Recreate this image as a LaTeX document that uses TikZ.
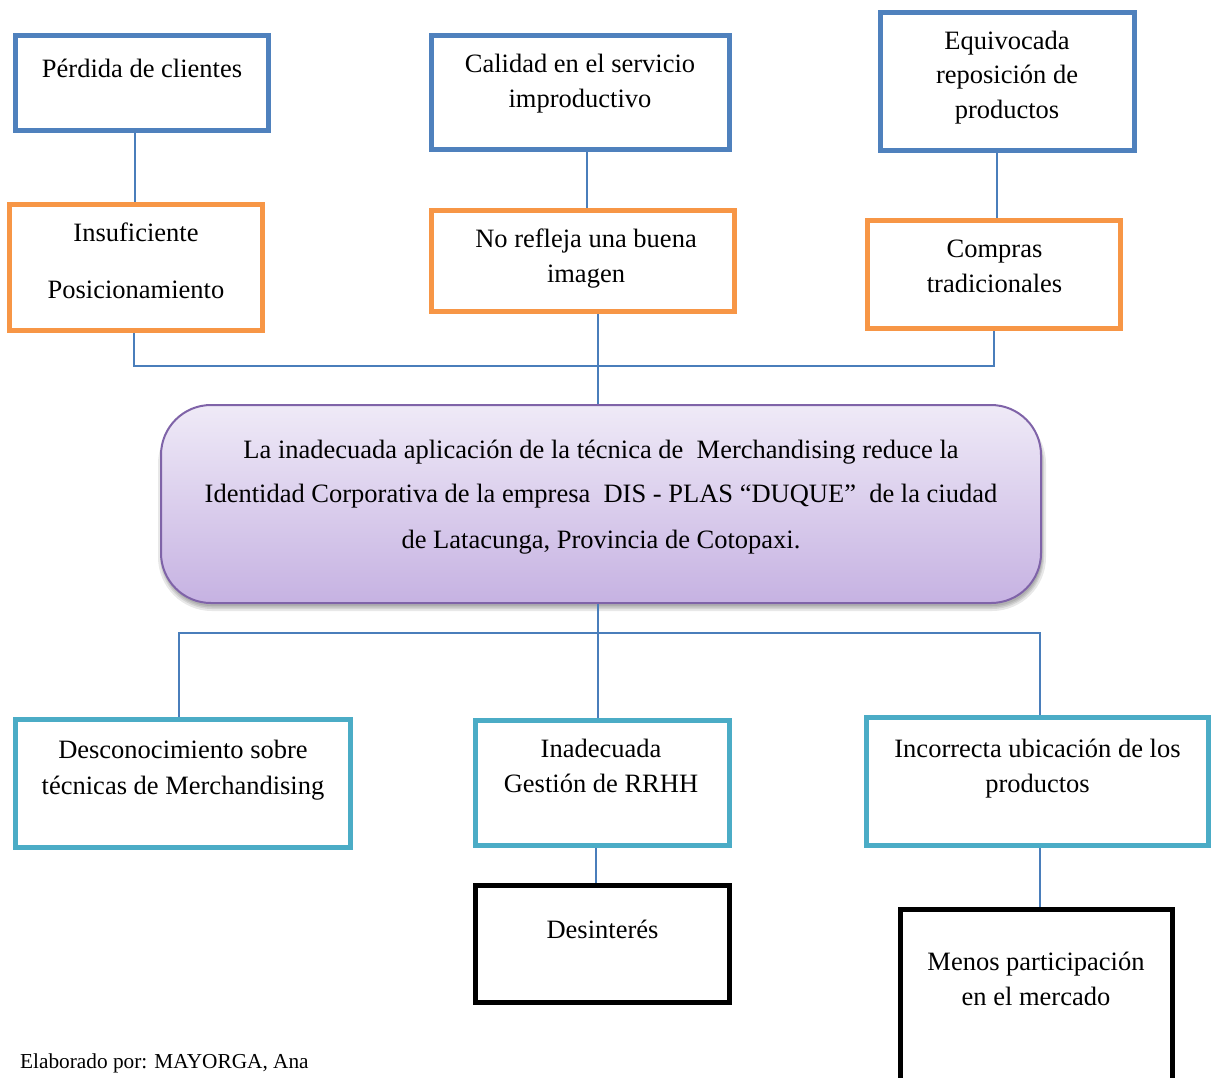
\documentclass[tikz,border=0pt]{standalone}
\usepackage{fontspec}
\setmainfont{Liberation Serif}
\definecolor{boxblue}{HTML}{4F81BD}
\definecolor{boxorange}{HTML}{F79646}
\definecolor{boxteal}{HTML}{4BACC6}
\definecolor{lineblue}{HTML}{4A7EBB}
\definecolor{purpleedge}{HTML}{7F63A8}
\definecolor{purpletop}{HTML}{EFEAF7}
\definecolor{purplebot}{HTML}{C6B2E2}
\newcommand{\mainsize}{\fontsize{26.5}{36}\selectfont}
\newcommand{\footsize}{\fontsize{21.3}{26}\selectfont}
\tikzset{
  box/.style={rectangle, draw, line width=5pt, inner sep=0pt, fill=white},
  bluebox/.style={box, draw=boxblue},
  orangebox/.style={box, draw=boxorange},
  tealbox/.style={box, draw=boxteal},
  blackbox/.style={box, draw=black},
  txt/.style={anchor=base, inner sep=0pt, font=\mainsize},
  conn/.style={draw=lineblue, line width=1.5pt},
  shadowlayer/.style={fill=black, opacity=0.09},
  central/.style={rectangle, rounded corners=50pt, draw=purpleedge, line width=2pt,
    top color=purpletop, bottom color=purplebot, inner sep=0pt}
}
\begin{document}
\begin{tikzpicture}[x=1pt, y=-1pt]
\useasboundingbox (0,0) rectangle (1214,1077);

% top row (effects)
\node[bluebox, minimum width=253pt, minimum height=95pt] (p1) at (142,83) {};
\node[bluebox, minimum width=298pt, minimum height=114pt] (p2) at (580.5,92.5) {};
\node[bluebox, minimum width=254pt, minimum height=138pt] (p3) at (1007.5,81.5) {};
% second row
\node[orangebox, minimum width=253pt, minimum height=126pt] (c1) at (136,267.5) {};
\node[orangebox, minimum width=303pt, minimum height=101pt] (c2) at (583,261) {};
\node[orangebox, minimum width=253pt, minimum height=108pt] (c3) at (994,274.5) {};

% central problem box with soft shadow
\fill[shadowlayer, rounded corners=54pt] (158,410) rectangle (1046,611);
\fill[shadowlayer, rounded corners=52pt] (160,410) rectangle (1044,609);
\fill[shadowlayer, rounded corners=51pt] (161,410) rectangle (1043,607.5);
\fill[shadowlayer, rounded corners=50pt] (162,410) rectangle (1042,606);
\node[central, minimum width=880pt, minimum height=198pt] (cen) at (601,504) {};

% bottom row (causes)
\node[tealbox, minimum width=335pt, minimum height=128pt] (b1) at (183,783.5) {};
\node[tealbox, minimum width=254pt, minimum height=125pt] (b2) at (602.5,783) {};
\node[tealbox, minimum width=342pt, minimum height=128pt] (b3) at (1037.5,781.5) {};
\node[blackbox, minimum width=254pt, minimum height=117pt] (d2) at (602.5,944) {};
\node[blackbox, minimum width=272pt, minimum height=190pt] (d3) at (1036.5,1004.5) {};

% texts
\node[txt] (tp1) at (142,77) {Pérdida de clientes};
\node[txt] (tp2a) at (580,72) {Calidad en el servicio};
\node[txt] (tp2b) at (580,107) {improductivo};
\node[txt] (tp3a) at (1007,49) {Equivocada};
\node[txt] (tp3b) at (1007,83) {reposición de};
\node[txt] (tp3c) at (1007,118) {productos};
\node[txt] (tc1a) at (136,241) {Insuficiente};
\node[txt] (tc1b) at (136,298) {Posicionamiento};
\node[txt] (tc2a) at (586,247) {No refleja una buena};
\node[txt] (tc2b) at (586,282) {imagen};
\node[txt] (tc3a) at (994.5,257) {Compras};
\node[txt] (tc3b) at (994.5,292) {tradicionales};
\node[txt] (tca) at (601,458) {La inadecuada aplicación de la técnica de\ \ Merchandising reduce la};
\node[txt] (tcb) at (601,502) {Identidad Corporativa de la empresa\ \ DIS - PLAS “DUQUE”\ \ de la ciudad};
\node[txt] (tcc) at (601,548) {de Latacunga, Provincia de Cotopaxi.};
\node[txt] (tb1a) at (183,758) {Desconocimiento sobre};
\node[txt] (tb1b) at (183,794) {técnicas de Merchandising};
\node[txt] (tb2a) at (601,757) {Inadecuada};
\node[txt] (tb2b) at (601,792) {Gestión de RRHH};
\node[txt] (tb3a) at (1037.5,757) {Incorrecta ubicación de los};
\node[txt] (tb3b) at (1037.5,792) {productos};
\node[txt] (td2) at (602.5,938) {Desinterés};
\node[txt] (td3a) at (1036,970) {Menos participación};
\node[txt] (td3b) at (1036,1005) {en el mercado};
\node[anchor=base west, inner sep=0pt, font=\footsize] (foot) at (20,1068) {Elaborado por: MAYORGA, Ana};

% connectors top
\coordinate (bus) at (0,366);
\coordinate (lbus) at (0,633);
\draw[conn] ([xshift=-1pt]c1.north |- p1.south) -- ([xshift=-1pt]c1.north);
\draw[conn] ([xshift=4pt]c2.north |- p2.south) -- ([xshift=4pt]c2.north);
\draw[conn] ([xshift=3pt]c3.north |- p3.south) -- ([xshift=3pt]c3.north);
\draw[conn] ([xshift=-2pt]c1.south) -- ([xshift=-2pt]c1.south |- bus) -- (c3.south |- bus) -- (c3.south);
\draw[conn] ([xshift=-3pt]cen.north |- c2.south) -- ([xshift=-3pt]cen.north);
% connectors bottom
\draw[conn] ([xshift=-3pt]cen.south) -- ([xshift=-3pt]cen.south |- b2.north);
\draw[conn] ([xshift=-4pt]b1.north) -- ([xshift=-4pt]b1.north |- lbus) -- ([xshift=2.5pt]b3.north |- lbus) -- ([xshift=2.5pt]b3.north);
\draw[conn] ([xshift=-6.5pt]b2.south) -- ([xshift=-6.5pt]d2.north);
\draw[conn] ([xshift=2.5pt]b3.south) -- ([xshift=3.5pt]d3.north);
\end{tikzpicture}
\end{document}
